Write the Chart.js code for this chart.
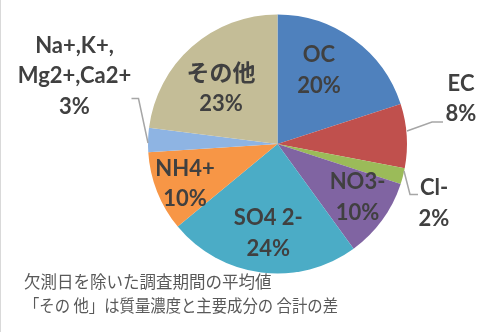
<!DOCTYPE html>
<html>
<head>
<meta charset="utf-8">
<script src="https://cdn.jsdelivr.net/npm/chart.js@4"></script>
<style>
  html, body { margin: 0; padding: 0; background: #fff; }
  canvas { display: block; }
</style>
</head>
<body>
<canvas id="pieComponents" width="481" height="332"></canvas>
<script>
// 成分ごとの割合 (%)
const categories = ['OC', 'EC', 'Cl-', 'NO3-', 'SO4 2-', 'NH4+', 'Na+,K+,Mg2+,Ca2+', 'その他'];
const shares = [20, 8, 2, 10, 24, 10, 3, 23];
// ラベルの表示用 (行分け)
const labelNames = [['OC'], ['EC'], ['Cl-'], ['NO3-'], ['SO4 2-'], ['NH4+'], ['Na+,K+,', 'Mg2+,Ca2+'], ['その他']];
const sliceColors = ['#4f81bd', '#c0504d', '#9bbb59', '#8064a2', '#4bacc6', '#f79646', '#8eb4e3', '#c4bd97'];
const footnotes = ['欠測日を除いた調査期間の平均値', '「その 他」は質量濃度と主要成分の 合計の差'];

// ラベル位置 (円の中心からのずれ) と引き出し線
const labelOffsets = [
  [41.5, -74.5], [183.5, -46], [156.5, 58.7], [80, 52.3],
  [-9.2, 88.3], [-92.5, 39.2], [-203, -68.6], [-56.5, -56]
];
const leaderLines = {
  1: [[129.5, -13], [154.5, -22], [165.5, -22]],
  2: [[126.5, 27], [132.5, 50.5], [140.5, 50.5]],
  6: [[-146, -45.5], [-139, -45.5], [-129.5, -1]]
};

const hasCJK = s => /[\u3040-\u30ff\u4e00-\u9fff]/.test(s);

const labelPlugin = {
  id: 'pieLabels',
  beforeDraw(chart) {
    const ctx = chart.ctx;
    ctx.save();
    ctx.fillStyle = '#d9d9d9';
    ctx.fillRect(0, 0, 1, chart.height);
    ctx.restore();
  },
  afterDatasetsDraw(chart) {
    const ctx = chart.ctx;
    const arc = chart.getDatasetMeta(0).data[0];
    const cx = arc.x, cy = arc.y;
    ctx.save();

    // 引き出し線
    ctx.strokeStyle = '#a6a6a6';
    ctx.lineWidth = 1.5;
    Object.keys(leaderLines).forEach(k => {
      const pts = leaderLines[k];
      ctx.beginPath();
      pts.forEach((p, i) => {
        if (i === 0) ctx.moveTo(cx + p[0], cy + p[1]);
        else ctx.lineTo(cx + p[0], cy + p[1]);
      });
      ctx.stroke();
    });

    // データラベル
    ctx.fillStyle = '#404040';
    ctx.textAlign = 'center';
    ctx.textBaseline = 'alphabetic';
    const lineH = 30.5;
    shares.forEach((v, i) => {
      const lines = labelNames[i].concat([v + '%']);
      const bx = cx + labelOffsets[i][0];
      const by = cy + labelOffsets[i][1];
      lines.forEach((t, j) => {
        const y = by + (j - (lines.length - 1) / 2) * lineH;
        ctx.font = hasCJK(t) ? 'bold 23px "Noto Sans CJK JP"' : 'bold 22px Lato';
        ctx.fillText(t, bx, y + 8);
      });
    });

    // 注記
    ctx.fillStyle = '#595959';
    ctx.font = '16.5px "Noto Sans CJK JP"';
    ctx.textAlign = 'left';
    ctx.fillText(footnotes[0], 24, 288);
    ctx.fillText(footnotes[1], 24, 312, 314);
    ctx.restore();
  }
};

new Chart(document.getElementById('pieComponents'), {
  type: 'pie',
  data: {
    labels: categories,
    datasets: [{
      data: shares,
      backgroundColor: sliceColors,
      borderWidth: 0
    }]
  },
  options: {
    responsive: false,
    devicePixelRatio: 1,
    animation: false,
    events: [],
    layout: { padding: { left: 148, right: 74, top: 14, bottom: 58 } },
    plugins: {
      legend: { display: false },
      tooltip: { enabled: false }
    }
  },
  plugins: [labelPlugin]
});
</script>
</body>
</html>
